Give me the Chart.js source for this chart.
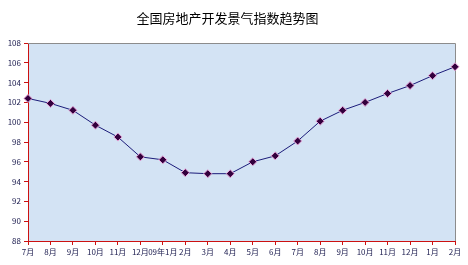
<!DOCTYPE html>
<html>
<head>
<meta charset="utf-8">
<script src="https://cdn.jsdelivr.net/npm/chart.js@4/dist/chart.umd.min.js"></script>
<style>
  html, body { margin: 0; padding: 0; background: #fff; }
  #wrap { width: 468px; height: 265px; position: relative; }
</style>
</head>
<body>
<div id="wrap"><canvas id="trendChart" width="468" height="265"></canvas></div>
<script>
const months = ['7月', '8月', '9月', '10月', '11月', '12月', '09年1月', '2月', '3月', '4月',
    '5月', '6月', '7月', '8月', '9月', '10月', '11月', '12月', '1月', '2月'];
const indexValues = [102.4, 101.9, 101.2, 99.7, 98.5, 96.5, 96.2, 94.9, 94.8, 94.8,
    96.0, 96.6, 98.1, 100.1, 101.2, 102.0, 102.9, 103.7, 104.7, 105.6];
const yMin = 88;
const yMax = 108;
const yStep = 2;

const axisRed = '#cc1111';
const lineNavy = '#1c1c7a';
const markerPurple = '#33003d';
const plotBlue = '#d3e3f4';
const tickFont = { family: '"Noto Sans CJK SC", "DejaVu Sans", sans-serif', size: 8 };

// plot background and the grey top/right frame
const plotFrame = {
    id: 'plotFrame',
    beforeDraw(chart) {
        const { ctx, chartArea: a } = chart;
        ctx.save();
        ctx.fillStyle = plotBlue;
        ctx.fillRect(a.left, a.top, a.right - a.left, a.bottom - a.top);
        ctx.restore();
    },
    beforeDatasetsDraw(chart) {
        const { ctx, chartArea: a } = chart;
        ctx.save();
        ctx.strokeStyle = '#8c8c8c';
        ctx.lineWidth = 1;
        ctx.beginPath();
        ctx.moveTo(a.left, a.top + 0.5);
        ctx.lineTo(a.right + 0.5, a.top + 0.5);
        ctx.lineTo(a.right + 0.5, a.bottom);
        ctx.stroke();
        ctx.restore();
    }
};

const ctx = document.getElementById('trendChart').getContext('2d');
new Chart(ctx, {
    type: 'line',
    data: {
        labels: months,
        datasets: [{
            data: indexValues,
            borderColor: lineNavy,
            borderWidth: 1,
            tension: 0,
            fill: false,
            clip: false,
            pointStyle: 'rectRot',
            pointRadius: 4,
            pointBackgroundColor: markerPurple,
            pointBorderColor: '#e7a3d8',
            pointBorderWidth: 1
        }]
    },
    options: {
        responsive: false,
        animation: false,
        devicePixelRatio: 1,
        layout: { padding: { left: 0, right: 13, top: 0, bottom: 0 } },
        plugins: {
            legend: { display: false },
            tooltip: { enabled: false },
            title: {
                display: true,
                text: '全国房地产开发景气指数趋势图',
                color: '#000',
                font: { family: '"Noto Sans CJK SC", sans-serif', size: 13, weight: 'normal', lineHeight: 1.2 },
                padding: { top: 10, bottom: 17.4 }
            }
        },
        scales: {
            x: {
                offset: false,
                border: { color: axisRed, width: 1 },
                grid: { drawOnChartArea: false, drawTicks: true, tickLength: 4, color: axisRed },
                ticks: {
                    autoSkip: false,
                    maxRotation: 0,
                    minRotation: 0,
                    padding: 2,
                    color: '#1a1a4d',
                    font: tickFont
                },
                afterFit(scale) {
                    scale.height = 24;
                    scale.paddingLeft = 0;
                    scale.paddingRight = 0;
                }
            },
            y: {
                min: yMin,
                max: yMax,
                border: { color: axisRed, width: 1 },
                grid: { drawOnChartArea: false, drawTicks: true, tickLength: 4, color: axisRed },
                ticks: {
                    stepSize: yStep,
                    autoSkip: false,
                    padding: 3,
                    color: '#1a1a4d',
                    font: tickFont
                },
                afterFit(scale) {
                    scale.width = 28;
                    scale.paddingTop = 0;
                    scale.paddingBottom = 0;
                }
            }
        }
    },
    plugins: [plotFrame]
});
</script>
</body>
</html>
